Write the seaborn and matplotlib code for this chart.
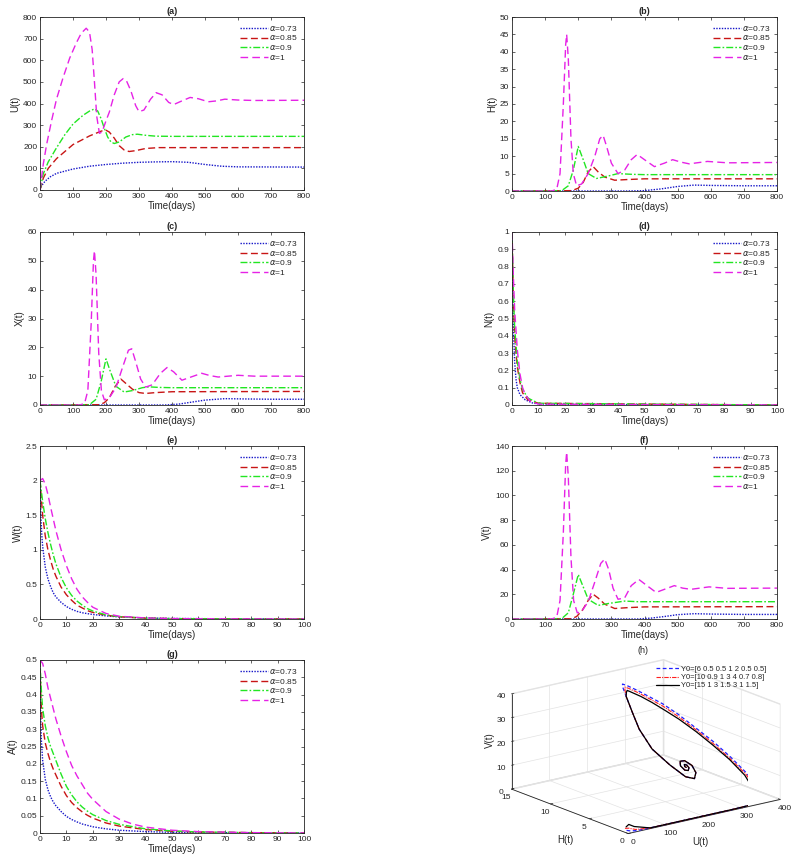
import numpy as np
import matplotlib
matplotlib.use("Agg")
import matplotlib.pyplot as plt
import seaborn as sns

# ---------------- data ----------------
alphas = ["0.73", "0.85", "0.9", "1"]

# (a) U(t)
u_t1 = [0, 5, 15, 30, 50, 100, 150, 200, 250, 300, 350, 400, 450, 500, 550, 600, 800]
u_v1 = [0, 20, 40, 60, 77, 97, 110, 118, 124, 128, 130, 131, 128, 118, 110, 107, 106]
u_t2 = [0, 10, 25, 50, 100, 150, 185, 198, 210, 225, 240, 255, 270, 290, 320, 360, 400, 800]
u_v2 = [0, 55, 100, 145, 210, 250, 272, 278, 268, 240, 205, 185, 178, 182, 192, 196, 196, 196]
u_t3 = [0, 10, 25, 50, 75, 100, 130, 150, 165, 175, 185, 195, 205, 215, 225, 240, 260, 280, 295, 320, 350, 400, 800]
u_v3 = [0, 75, 130, 195, 255, 305, 345, 365, 375, 365, 330, 285, 245, 222, 215, 222, 245, 256, 258, 253, 249, 248, 248]
u_t4 = [0, 5, 10, 20, 35, 50, 70, 90, 110, 125, 140, 150, 158, 165, 172, 180, 188, 200, 210, 225, 240, 252, 262,
        275, 290, 300, 315, 335, 352, 370, 390, 405, 430, 455, 480, 510, 535, 560, 600, 650, 800]
u_v4 = [0, 60, 120, 210, 320, 420, 520, 610, 680, 725, 748, 730, 650, 500, 340, 262, 268, 320, 360, 440, 500, 515, 505,
        460, 390, 362, 370, 420, 450, 440, 405, 395, 412, 428, 422, 408, 412, 420, 416, 414, 415]

# (b) H(t)
h_t1 = [0, 350, 400, 450, 500, 550, 600, 700, 800]
h_v1 = [0, 0, 0.1, 0.6, 1.3, 1.7, 1.6, 1.5, 1.5]
h_t2 = [0, 180, 200, 215, 230, 245, 260, 280, 310, 350, 400, 800]
h_v2 = [0, 0.1, 0.8, 2.5, 5.5, 7, 5.5, 4, 3.1, 3.3, 3.5, 3.5]
h_t3 = [0, 150, 170, 185, 200, 215, 230, 255, 290, 320, 360, 400, 800]
h_v3 = [0, 0.1, 1.5, 6, 12.8, 9, 5, 3.6, 4.3, 5, 4.8, 4.7, 4.7]
h_t4 = [0, 120, 135, 145, 155, 162, 165, 170, 178, 185, 195, 210, 230, 250, 265, 275, 285, 300, 320, 340, 360,
        378, 400, 430, 460, 485, 510, 535, 590, 650, 800]
h_v4 = [0, 0, 0.5, 5, 25, 42, 45, 38, 15, 5, 1.5, 2, 5, 10, 15, 16, 13, 8, 5, 6, 9,
        10.5, 9, 7, 8, 9, 8.3, 7.8, 8.5, 8.1, 8.2]

# (c) X(t)
x_t1 = [0, 380, 420, 460, 500, 560, 620, 700, 800]
x_v1 = [0, 0, 0.3, 1, 1.7, 2.2, 2.1, 2, 2]
x_t2 = [0, 180, 195, 210, 228, 245, 260, 280, 300, 320, 350, 400, 800]
x_v2 = [0, 0.1, 0.8, 2.5, 6.5, 9, 7.5, 5.5, 4.3, 4, 4.3, 4.6, 4.7]
x_t3 = [0, 150, 170, 185, 200, 212, 230, 255, 280, 310, 330, 360, 400, 800]
x_v3 = [0, 0.1, 2, 8, 16, 12, 6.5, 4.5, 5, 6, 6.3, 6.1, 6, 6]
x_t4 = [0, 120, 135, 145, 155, 162, 165, 170, 178, 186, 195, 210, 230, 250, 268, 278, 290, 305, 320, 340, 365,
        385, 405, 430, 460, 490, 515, 540, 600, 650, 800]
x_v4 = [0, 0, 0.5, 5, 28, 50, 53.5, 45, 18, 5, 1.8, 2.5, 6, 13, 19, 19.5, 15, 9, 6.2, 7, 11,
        13, 11.5, 8.6, 9.8, 11, 10.2, 9.7, 10.3, 10, 10]

# (d) N(t)
n_t1 = [0, 0.5, 1, 1.5, 2, 3, 5, 8, 15, 100]
n_v1 = [1, 0.45, 0.25, 0.15, 0.1, 0.06, 0.03, 0.01, 0.003, 0]
n_t2 = [0, 0.5, 1, 1.5, 2, 3, 4, 6, 10, 100]
n_v2 = [1, 0.6, 0.4, 0.3, 0.22, 0.13, 0.07, 0.03, 0.01, 0]
n_t3 = [0, 0.5, 1, 2, 3, 4, 6, 10, 100]
n_v3 = [1, 0.65, 0.45, 0.25, 0.15, 0.09, 0.04, 0.01, 0]
n_t4 = [0, 0.5, 1, 2, 3, 4, 5, 7, 10, 100]
n_v4 = [1, 0.75, 0.55, 0.32, 0.18, 0.1, 0.06, 0.02, 0.005, 0]

# (e) W(t)
w_t1 = [0, 0.3, 0.7, 1, 2, 3, 4, 5, 6, 8, 10, 12, 14, 16, 20, 25, 30, 40, 50, 70, 100]
w_v1 = [2.0, 1.5, 1.2, 1.05, 0.75, 0.58, 0.47, 0.38, 0.32, 0.24, 0.18, 0.14, 0.11, 0.09, 0.065, 0.045, 0.03, 0.015,
        0.008, 0.003, 0.001]
w_t2 = [0, 1, 2, 3, 4, 5, 6, 8, 10, 12, 14, 16, 18, 20, 25, 30, 40, 50, 100]
w_v2 = [2.0, 1.5, 1.2, 1.0, 0.85, 0.72, 0.62, 0.46, 0.35, 0.27, 0.2, 0.16, 0.12, 0.095, 0.055, 0.032, 0.012, 0.005, 0]
w_t3 = [0, 1, 2, 3, 4, 5, 6, 8, 10, 12, 14, 16, 18, 20, 25, 30, 40, 50, 70, 100]
w_v3 = [2.0, 1.7, 1.45, 1.25, 1.08, 0.93, 0.8, 0.6, 0.45, 0.34, 0.26, 0.2, 0.15, 0.115, 0.06, 0.035, 0.012, 0.005,
        0.001, 0]
w_t4 = [0, 1, 2, 3, 4, 5, 6, 8, 10, 12, 14, 16, 18, 20, 25, 30, 40, 50, 70, 100]
w_v4 = [2.0, 2.03, 1.95, 1.8, 1.62, 1.45, 1.28, 1.0, 0.77, 0.58, 0.43, 0.32, 0.24, 0.17, 0.08, 0.04, 0.015, 0.006,
        0.002, 0]

# (f) V(t)
v_t1 = [0, 380, 420, 460, 500, 550, 600, 700, 800]
v_v1 = [0, 0, 0.7, 2, 3.5, 4.3, 4, 3.7, 3.7]
v_t2 = [0, 180, 195, 212, 230, 245, 260, 280, 310, 350, 400, 800]
v_v2 = [0, 0.2, 2, 7, 15, 20, 17, 12, 8.5, 9.2, 9.8, 10]
v_t3 = [0, 150, 170, 185, 200, 212, 230, 260, 290, 340, 380, 800]
v_v3 = [0, 0.3, 5, 20, 36, 28, 16, 11, 12.5, 14.5, 14, 14]
v_t4 = [0, 120, 135, 145, 155, 162, 165, 170, 178, 186, 197, 210, 230, 250, 268, 280, 292, 305, 320, 340, 360,
        383, 405, 435, 460, 490, 515, 540, 595, 650, 800]
v_v4 = [0, 0, 1.5, 15, 70, 125, 135, 115, 50, 15, 5, 6, 14, 30, 45, 48.5, 40, 25, 16, 17, 27,
        32, 27.5, 21.5, 24, 27, 25, 24, 26, 24.8, 25]

# (g) A(t)
a_t1 = [0, 0.2, 0.5, 1, 2, 3, 4, 5, 6, 8, 10, 12, 14, 16, 20, 25, 30, 40, 50, 70, 100]
a_v1 = [0.5, 0.35, 0.27, 0.21, 0.155, 0.125, 0.105, 0.09, 0.079, 0.062, 0.048, 0.039, 0.032, 0.026, 0.018, 0.012,
        0.008, 0.004, 0.002, 0.001, 0]
a_t2 = [0, 0.3, 0.7, 1, 2, 3, 4, 5, 6, 8, 10, 12, 14, 16, 18, 20, 25, 30, 40, 50, 60, 80, 100]
a_v2 = [0.5, 0.4, 0.34, 0.31, 0.26, 0.23, 0.205, 0.185, 0.168, 0.135, 0.108, 0.088, 0.073, 0.061, 0.051, 0.043,
        0.029, 0.02, 0.01, 0.005, 0.003, 0.001, 0]
a_t3 = [0, 0.3, 0.7, 1, 2, 3, 4, 5, 6, 8, 10, 12, 14, 16, 18, 20, 25, 30, 40, 50, 60, 80, 100]
a_v3 = [0.5, 0.44, 0.39, 0.36, 0.31, 0.275, 0.25, 0.23, 0.21, 0.17, 0.135, 0.11, 0.09, 0.075, 0.063, 0.053,
        0.036, 0.025, 0.012, 0.006, 0.003, 0.001, 0]
a_t4 = [0, 1, 2, 3, 4, 5, 6, 8, 10, 12, 14, 16, 18, 20, 25, 30, 35, 40, 50, 60, 80, 100]
a_v4 = [0.5, 0.49, 0.46, 0.42, 0.39, 0.36, 0.33, 0.28, 0.235, 0.195, 0.165, 0.14, 0.115, 0.097, 0.062, 0.04,
        0.026, 0.017, 0.008, 0.004, 0.001, 0]

# (h) phase portrait (U, H, V)
ph_labels = ["Y0=[6 0.5 0.5 1 2 0.5 0.5]", "Y0=[10 0.9 1 3 4 0.7 0.8]", "Y0=[15 1 3 1.5 3 1 1.5]"]
ph_u1 = [6, 12, 25, 60, 120, 200, 280, 340, 356, 366, 370, 362, 350, 334, 317, 300, 283, 267, 253, 245, 241,
         232, 218, 205, 200, 212, 227, 244, 258, 262, 255, 243, 236, 237, 244, 250, 250, 246, 243, 245]
ph_h1 = [0.5, 0.3, 0.15, 0.1, 0.1, 0.1, 0.1, 0.15, 0.5, 1.5, 2.8, 4.5, 6.2, 7.7, 9.1, 10.2, 11.1, 11.9, 12.5, 12.7,
         12.5, 11.6, 10.1, 8.6, 6.7, 5.0, 3.7, 3.4, 3.9, 4.6, 5.2, 5.2, 4.8, 4.3, 4.2, 4.4, 4.7, 4.8, 4.6, 4.5]
ph_v1 = [0.5, 0.3, 0.15, 0.1, 0.1, 0.1, 0.1, 0.2, 1.5, 4.5, 8.5, 13.5, 18.5, 23, 27.5, 31, 33.5, 35.8, 37.5, 38.2,
         37.5, 34.9, 30.4, 25.8, 20, 15, 11.1, 10.1, 11.5, 13.5, 15.0, 15.2, 14.0, 12.8, 12.5, 13.2, 14.0, 14.2,
         13.7, 13.4]
ph_u2 = [10, 14, 25, 60, 120, 200, 280, 340, 353, 363, 366, 358, 346, 331, 314, 298, 281, 266, 252, 245, 241,
         232, 218, 205, 200, 212, 227, 244, 258, 262, 255, 243, 236, 237, 244, 250, 250, 246, 243, 245]
ph_h2 = [0.9, 0.6, 0.25, 0.1, 0.1, 0.1, 0.1, 0.15, 0.5, 1.5, 2.7, 4.4, 6.0, 7.5, 8.9, 10.0, 10.9, 11.6, 12.2, 12.4,
         12.2, 11.6, 10.1, 8.6, 6.7, 5.0, 3.7, 3.4, 3.9, 4.6, 5.2, 5.2, 4.8, 4.3, 4.2, 4.4, 4.7, 4.8, 4.6, 4.5]
ph_v2 = [0.7, 1.0, 0.5, 0.1, 0.1, 0.1, 0.1, 0.2, 1.5, 4.5, 8.3, 13.2, 18, 22.5, 26.8, 30.2, 32.8, 35, 36.7, 37.3,
         36.7, 34.9, 30.4, 25.8, 20, 15, 11.1, 10.1, 11.5, 13.5, 15.0, 15.2, 14.0, 12.8, 12.5, 13.2, 14.0, 14.2,
         13.7, 13.4]
ph_u3 = [15, 20, 28, 60, 120, 200, 280, 340, 350, 358, 362, 355, 343, 328, 312, 296, 280, 265, 252, 245, 241,
         232, 218, 205, 200, 212, 227, 244, 258, 262, 255, 243, 236, 237, 244, 250, 250, 246, 243, 245]
ph_h3 = [1.0, 0.9, 0.6, 0.1, 0.1, 0.1, 0.1, 0.15, 0.5, 1.5, 2.7, 4.3, 5.9, 7.3, 8.7, 9.7, 10.6, 11.3, 11.8, 12.1,
         12.0, 11.6, 10.1, 8.6, 6.7, 5.0, 3.7, 3.4, 3.9, 4.6, 5.2, 5.2, 4.8, 4.3, 4.2, 4.4, 4.7, 4.8, 4.6, 4.5]
ph_v3 = [1.0, 2.0, 1.2, 0.1, 0.1, 0.1, 0.1, 0.2, 1.5, 4.5, 8.2, 13, 17.6, 22, 26, 29, 31.8, 34, 35.5, 36.3,
         35.8, 34.9, 30.4, 25.8, 20, 15, 11.1, 10.1, 11.5, 13.5, 15.0, 15.2, 14.0, 12.8, 12.5, 13.2, 14.0, 14.2,
         13.7, 13.4]

# ---------------- style ----------------
sns.set_theme(style="ticks")
plt.rcParams["font.family"] = ["Liberation Sans", "DejaVu Sans"]
plt.rcParams.update({
    "xtick.direction": "in", "ytick.direction": "in",
    "xtick.top": True, "ytick.right": True,
    "xtick.major.size": 2.5, "ytick.major.size": 2.5,
    "xtick.major.width": 0.5, "ytick.major.width": 0.5,
    "xtick.major.pad": 2, "ytick.major.pad": 2,
    "axes.linewidth": 0.6, "axes.edgecolor": "#222222",
    "xtick.labelsize": 6, "ytick.labelsize": 6,
})

colors = ["#1515c8", "#c81515", "#22e622", "#e622e6"]
styles = [(0, (1, 1)), (0, (5, 2.5)), (0, (5, 1.5, 1.2, 1.5)), (0, (5.5, 3))]

fig = plt.figure(figsize=(8.09, 8.60), dpi=100)

W, Hh = 809, 860


def box(l, t, r, b):
    return [l / W, 1 - b / Hh, (r - l) / W, (b - t) / Hh]


panels = [
    ("(a)", "U(t)", box(40, 17, 304, 190), [(u_t1, u_v1), (u_t2, u_v2), (u_t3, u_v3), (u_t4, u_v4)],
     (0, 800), np.arange(0, 801, 100), (0, 800), np.arange(0, 801, 100)),
    ("(b)", "H(t)", box(512, 17, 777, 191), [(h_t1, h_v1), (h_t2, h_v2), (h_t3, h_v3), (h_t4, h_v4)],
     (0, 800), np.arange(0, 801, 100), (0, 50), np.arange(0, 51, 5)),
    ("(c)", "X(t)", box(40, 232, 304, 405), [(x_t1, x_v1), (x_t2, x_v2), (x_t3, x_v3), (x_t4, x_v4)],
     (0, 800), np.arange(0, 801, 100), (0, 60), np.arange(0, 61, 10)),
    ("(d)", "N(t)", box(512, 232, 777, 405), [(n_t1, n_v1), (n_t2, n_v2), (n_t3, n_v3), (n_t4, n_v4)],
     (0, 100), np.arange(0, 101, 10), (0, 1), np.round(np.arange(0, 1.01, 0.1), 1)),
    ("(e)", "W(t)", box(40, 446, 304, 619), [(w_t1, w_v1), (w_t2, w_v2), (w_t3, w_v3), (w_t4, w_v4)],
     (0, 100), np.arange(0, 101, 10), (0, 2.5), np.arange(0, 2.51, 0.5)),
    ("(f)", "V(t)", box(512, 446, 777, 619), [(v_t1, v_v1), (v_t2, v_v2), (v_t3, v_v3), (v_t4, v_v4)],
     (0, 800), np.arange(0, 801, 100), (0, 140), np.arange(0, 141, 20)),
    ("(g)", "A(t)", box(40, 660, 304, 833), [(a_t1, a_v1), (a_t2, a_v2), (a_t3, a_v3), (a_t4, a_v4)],
     (0, 100), np.arange(0, 101, 10), (0, 0.5), np.round(np.arange(0, 0.501, 0.05), 2)),
]

for title, ylab, pos, series, xlim, xt, ylim, yt in panels:
    ax = fig.add_axes(pos)
    for (t, y), c, ls, a in zip(series, colors, styles, alphas):
        sns.lineplot(x=t, y=y, ax=ax, color=c, linestyle=ls, linewidth=1.0, estimator=None,
                     label=r"$\alpha$=" + a)
    ax.set_xlim(*xlim)
    ax.set_ylim(*ylim)
    ax.set_xticks(xt)
    ax.set_yticks(yt)
    ax.set_yticklabels([("%g" % v) for v in yt])
    ax.set_title(title, fontsize=6.5, fontweight="bold", pad=2)
    ax.set_xlabel("Time(days)", fontsize=7, labelpad=1)
    ax.set_ylabel(ylab, fontsize=7, labelpad=2)
    ax.legend(loc="upper right", frameon=False, fontsize=6, handlelength=3.4,
              handletextpad=0.1, labelspacing=0.1, borderaxespad=0.4)

# (h) 3D phase portrait
ax3 = fig.add_axes([478 / W, 0.006, 330 / W, 0.245], projection="3d", proj_type="ortho")
ax3.plot(ph_u1, ph_h1, ph_v1, color="#2020ff", linestyle=(0, (3, 2)), linewidth=0.9, label=ph_labels[0])
ax3.plot(ph_u2, ph_h2, ph_v2, color="#ff2020", linestyle=(0, (4, 1, 1, 1)), linewidth=0.8, label=ph_labels[1])
ax3.plot(ph_u3, ph_h3, ph_v3, color="black", linestyle="-", linewidth=0.9, label=ph_labels[2])
ax3.view_init(elev=17, azim=-127.5)
ax3.set_xlim(0, 400)
ax3.set_ylim(0, 15)
ax3.set_zlim(0, 40)
ax3.set_xticks([0, 100, 200, 300, 400])
ax3.set_yticks([0, 5, 10, 15])
ax3.set_zticks([0, 10, 20, 30, 40])
ax3.set_box_aspect((1, 1, 0.52), zoom=1.33)
for axis in (ax3.xaxis, ax3.yaxis, ax3.zaxis):
    axis.pane.set_facecolor((1, 1, 1, 0))
    axis.pane.set_edgecolor("#cccccc")
    axis._axinfo["grid"]["color"] = "#e3e3e3"
    axis._axinfo["grid"]["linewidth"] = 0.5
    axis._axinfo["axisline"]["color"] = "#555555"
    axis._axinfo["tick"]["inward_factor"] = 0.0
    axis._axinfo["tick"]["outward_factor"] = 0.2
ax3.tick_params(labelsize=6, pad=-5)
ax3.set_title("(h)", fontsize=6.5, y=1.0)
ax3.legend(loc="upper right", frameon=False, fontsize=5.5, handlelength=3.0, handletextpad=0.3,
           labelspacing=0.1, bbox_to_anchor=(1.12, 0.93))
# axis titles of the 3D panel, placed where the reference shows them
fig.text(700 / W, 1 - 842 / Hh, "U(t)", fontsize=7, ha="center", va="center")
fig.text(565 / W, 1 - 840 / Hh, "H(t)", fontsize=7, ha="center", va="center")
fig.text(490 / W, 1 - 740 / Hh, "V(t)", fontsize=7, ha="center", va="center", rotation=90)

fig.savefig("out.png", dpi=100)
